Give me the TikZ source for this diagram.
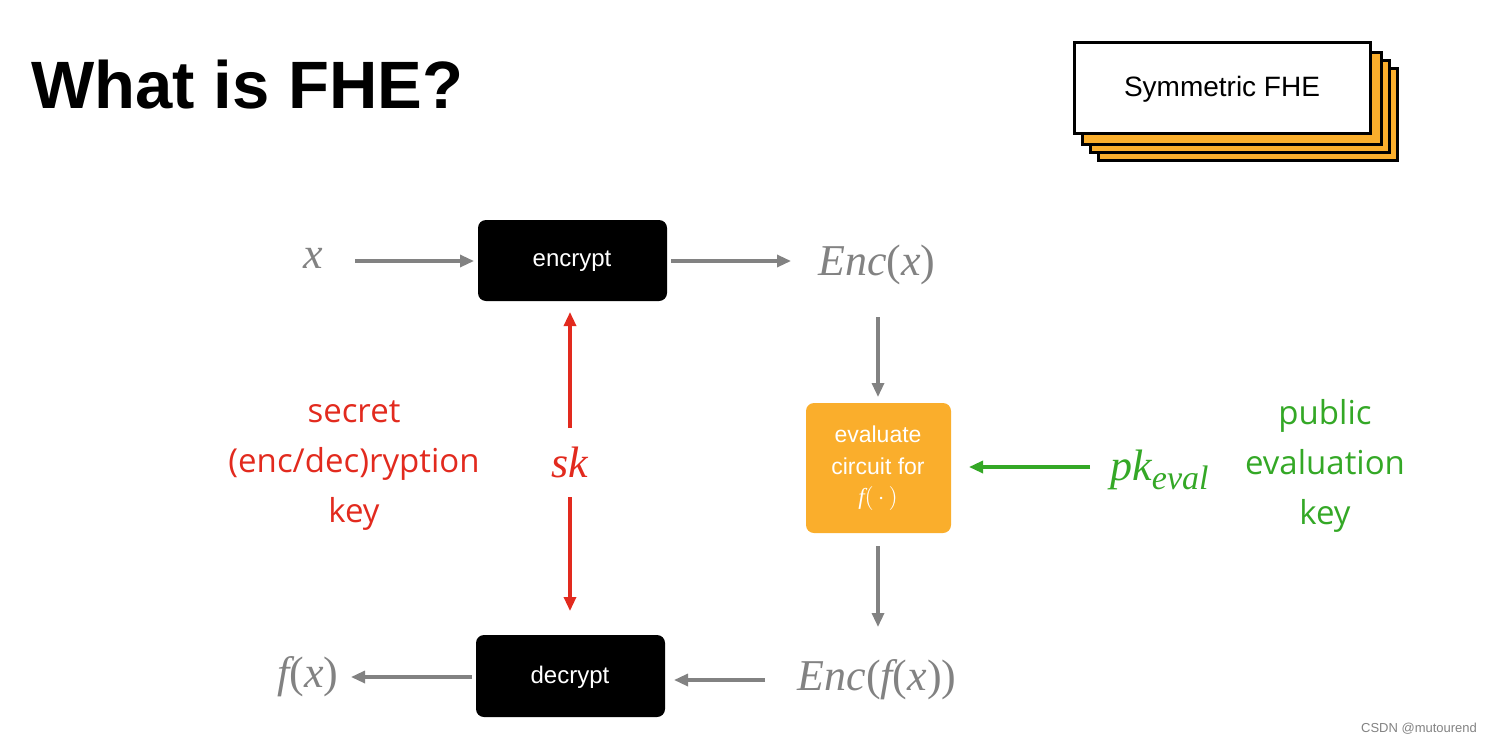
\documentclass[tikz,border=0pt]{standalone}
\usepackage{fontspec}
\setmainfont{Liberation Serif}
\newfontfamily\sans{Liberation Sans}
\newfontfamily\body{Open Sans}
\usetikzlibrary{arrows.meta}
\definecolor{og}{RGB}{250,174,44}
\definecolor{gr}{RGB}{130,130,130}
\definecolor{rd}{RGB}{226,42,30}
\definecolor{gn}{RGB}{52,168,38}
\begin{document}
\begin{tikzpicture}[x=0.5pt,y=-0.5pt,
 blk/.style={fill=black,rounded corners=4pt},
 bt/.style={text=white,font=\sans\fontsize{12}{13}\selectfont},
 ga/.style={draw=gr,line width=1.6pt,-{Triangle[length=7pt,width=6pt]}},
 ra/.style={draw=rd,line width=1.6pt,-{Triangle[length=7pt,width=6pt]}},
 na/.style={draw=gn,line width=1.6pt,-{Triangle[length=7pt,width=6pt]}},
 mt/.style={text=gr,font=\fontsize{22}{24}\selectfont}]
\useasboundingbox (0,0) rectangle (1498,744);
\node[anchor=base west,inner sep=0pt,font=\sans\bfseries\fontsize{33.5}{36}\selectfont] (title) at (31,108) {What is FHE?};
\foreach \d in {24,16,8}
  \draw[fill=og,line width=1.5pt] (1074+\d,42+\d+2) rectangle (1370+\d+3,133+\d+3);
\draw[fill=white,line width=1.5pt] (1074,42) rectangle (1370,133);
\node[font=\sans\fontsize{14}{16}\selectfont] (sym) at (1222,89) {Symmetric FHE};
\path[blk] (478,220) rectangle (667,301);
\node[bt] (enc) at (572,261) {encrypt};
\path[blk] (476,635) rectangle (665,717);
\node[bt] (dec) at (570,677) {decrypt};
\path[fill=og,rounded corners=4pt] (806,403) rectangle (951,533);
\node[text=white,align=center,font=\sans\fontsize{11.5}{16}\selectfont] (ev) at (878,468) {evaluate\\circuit for\\[-1pt]{\rmfamily\itshape f}$(\,\cdot\,)$};
\node[mt] (x) at (313,258) {\itshape x};
\node[mt] (ex) at (877,265) {\itshape Enc\upshape(\itshape x\upshape)};
\node[mt] (efx) at (877,680) {\itshape Enc\upshape(\itshape f\upshape(\itshape x\upshape))};
\node[mt] (fx) at (308,677) {\itshape f\upshape(\itshape x\upshape)};
\node[text=rd,font=\fontsize{22}{24}\itshape\selectfont] (sk) at (570,462) {sk};
\node[text=gn,font=\fontsize{22}{24}\itshape\selectfont] (pk) at (1160,470) {pk\textsubscript{\fontsize{17}{18}\selectfont eval}};
\node[text=rd,align=center,font=\body\fontsize{16.5}{25}\selectfont] (sl) at (354,466) {secret\\(enc/dec)ryption\\key};
\node[text=gn,align=center,font=\body\fontsize{16.5}{25}\selectfont] (pl) at (1325,466) {public\\evaluation\\key};
\node[text=gr,font=\sans\fontsize{6.5}{7}\selectfont,anchor=east] (cs) at (1484,729) {CSDN @mutourend};
\coordinate (a1) at (355,261); \coordinate (a2) at (474,261);
\draw[ga] (a1) -- (a2);
\coordinate (b1) at (671,261); \coordinate (b2) at (791,261);
\draw[ga] (b1) -- (b2);
\coordinate (c1) at (878,317); \coordinate (c2) at (878,397);
\draw[ga] (c1) -- (c2);
\coordinate (d1) at (878,546); \coordinate (d2) at (878,627);
\draw[ga] (d1) -- (d2);
\coordinate (e1) at (765,680); \coordinate (e2) at (674,680);
\draw[ga] (e1) -- (e2);
\coordinate (f1) at (472,677); \coordinate (f2) at (351,677);
\draw[ga] (f1) -- (f2);
\coordinate (g1) at (570,428); \coordinate (g2) at (570,312);
\draw[ra] (g1) -- (g2);
\coordinate (h1) at (570,497); \coordinate (h2) at (570,611);
\draw[ra] (h1) -- (h2);
\coordinate (i1) at (1090,467); \coordinate (i2) at (969,467);
\draw[na] (i1) -- (i2);
\end{tikzpicture}
\end{document}
